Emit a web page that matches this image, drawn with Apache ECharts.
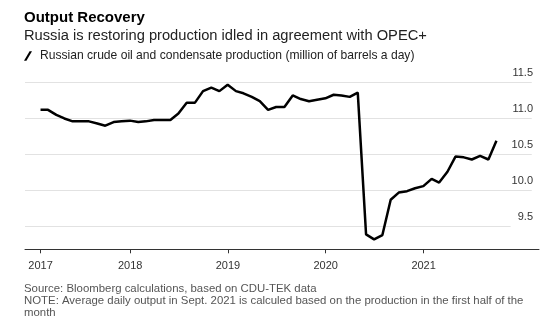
<!DOCTYPE html>
<html>
<head>
<meta charset="utf-8">
<script src="https://cdn.jsdelivr.net/npm/echarts@6/dist/echarts.min.js"></script>
<style>
  html, body { margin: 0; padding: 0; background: #fff; }
  #chart { width: 550px; height: 326px; }
</style>
</head>
<body>
<div id="chart"></div>
<script>
// Texts
const titleText = 'Output Recovery';
const subtitleText = 'Russia is restoring production idled in agreement with OPEC+';
const seriesName = 'Russian crude oil and condensate production (million of barrels a day)';
const sourceText = 'Source: Bloomberg calculations, based on CDU-TEK data';
const noteText = 'NOTE: Average daily output in Sept. 2021 is calculed based on the production in the first half of the\nmonth';

// Monthly observations (month, million barrels a day)
const months = [
  '2017-01','2017-02','2017-03','2017-04','2017-05','2017-06','2017-07','2017-08','2017-09','2017-10','2017-11','2017-12',
  '2018-01','2018-02','2018-03','2018-04','2018-05','2018-06','2018-07','2018-08','2018-09','2018-10','2018-11','2018-12',
  '2019-01','2019-02','2019-03','2019-04','2019-05','2019-06','2019-07','2019-08','2019-09','2019-10','2019-11','2019-12',
  '2020-01','2020-02','2020-03','2020-04','2020-05','2020-06','2020-07','2020-08','2020-09','2020-10','2020-11','2020-12',
  '2021-01','2021-02','2021-03','2021-04','2021-05','2021-06','2021-07','2021-08','2021-09'
];
const output = [
  11.12, 11.12, 11.05, 11.00, 10.96, 10.96, 10.96, 10.93, 10.90, 10.95, 10.96, 10.97,
  10.95, 10.96, 10.98, 10.98, 10.98, 11.07, 11.22, 11.22, 11.38, 11.43, 11.38, 11.47,
  11.38, 11.35, 11.30, 11.24, 11.12, 11.16, 11.16, 11.32, 11.27, 11.24, 11.26, 11.28,
  11.33, 11.32, 11.30, 11.36, 9.39, 9.32, 9.38, 9.87, 9.97, 9.99, 10.03, 10.06,
  10.16, 10.11, 10.26, 10.47, 10.46, 10.43, 10.48, 10.43, 10.69
];

// Axis labels
const yearLabels = ['2017', '2018', '2019', '2020', '2021'];
const yTicks = [9.5, 10, 10.5, 11, 11.5];

// The x axis counts days from the first observation; each observation
// sits at the end of its month.
const DAY = 86400000;
function monthEnd(s) {
  const [y, m] = s.split('-').map(Number);
  return Date.UTC(y, m, 0);
}
const t0 = monthEnd(months[0]);
const dayOf = t => Math.round((t - t0) / DAY);

const xMin = -58;
const xMax = 1862;
const gridEnd = 1835;
const shortGridEnd = 1756;

// First year label at the start of the series, the others on 1 January
const yearTickDays = yearLabels.map((y, i) => i === 0 ? 0 : dayOf(Date.UTC(+y, 0, 1)));

const seriesData = months.map((m, i) => [dayOf(monthEnd(m)), output[i]]);

const font = 'Liberation Sans, Arial, Helvetica, sans-serif';

const chart = echarts.init(document.getElementById('chart'), null, { renderer: 'canvas' });

chart.setOption({
  animation: false,
  backgroundColor: '#fff',
  textStyle: { fontFamily: font },
  title: [
    {
      text: titleText, left: 24, top: 10, padding: 0,
      textStyle: { fontSize: 15, fontWeight: 'bold', color: '#000', fontFamily: font }
    },
    {
      text: subtitleText, left: 24, top: 28, padding: 0,
      textStyle: { fontSize: 14.7, fontWeight: 'normal', color: '#222', fontFamily: font }
    },
    {
      text: sourceText + '\n' + noteText, left: 24, top: 283, padding: 0,
      textStyle: { fontSize: 11.4, lineHeight: 12, fontWeight: 'normal', color: '#555', fontFamily: font }
    }
  ],
  legend: {
    left: 24, top: 50, padding: 0,
    itemWidth: 8, itemHeight: 10,
    data: [{ name: seriesName, icon: 'path://M0,10 L6,0 L8.6,0 L2.6,10 Z' }],
    textStyle: { fontSize: 12.1, color: '#222', fontFamily: font, padding: [0, 0, 0, 3] },
    selectedMode: false
  },
  grid: {
    left: 25, right: 11, top: 82.5, bottom: 76.7,
    containLabel: false, outerBoundsMode: 'none'
  },
  xAxis: {
    type: 'value',
    min: xMin, max: xMax,
    axisLine: { show: true, lineStyle: { color: '#333', width: 1 } },
    axisTick: { show: true, length: 4, customValues: yearTickDays, lineStyle: { color: '#333', width: 1 } },
    splitLine: { show: false },
    axisLabel: {
      customValues: yearTickDays,
      margin: 11,
      fontSize: 11,
      color: '#333',
      fontFamily: font,
      formatter: function (v) {
        const i = yearTickDays.indexOf(Math.round(v));
        return i >= 0 ? yearLabels[i] : '';
      }
    }
  },
  yAxis: {
    type: 'value',
    position: 'right',
    min: 9.182, max: 11.5,
    axisLine: { show: false },
    axisTick: { show: false },
    splitLine: { show: false },
    axisLabel: {
      inside: true,
      customValues: yTicks,
      margin: 6,
      fontSize: 11,
      color: '#333',
      fontFamily: font,
      verticalAlign: 'bottom',
      padding: [0, 0, 4, 0],
      formatter: v => v.toFixed(1)
    }
  },
  series: [
    {
      name: seriesName,
      type: 'line',
      data: seriesData,
      showSymbol: false,
      symbol: 'none',
      z: 3,
      lineStyle: { color: '#000', width: 2.5 },
      itemStyle: { color: '#000' },
      markLine: {
        silent: true,
        symbol: 'none',
        z: 1,
        label: { show: false },
        lineStyle: { color: '#e2e2e2', width: 1, type: 'solid' },
        emphasis: { disabled: true },
        data: yTicks.map(v => [
          { coord: [xMin, v] },
          { coord: [v === 9.5 ? shortGridEnd : gridEnd, v] }
        ])
      }
    }
  ]
});
</script>
</body>
</html>
